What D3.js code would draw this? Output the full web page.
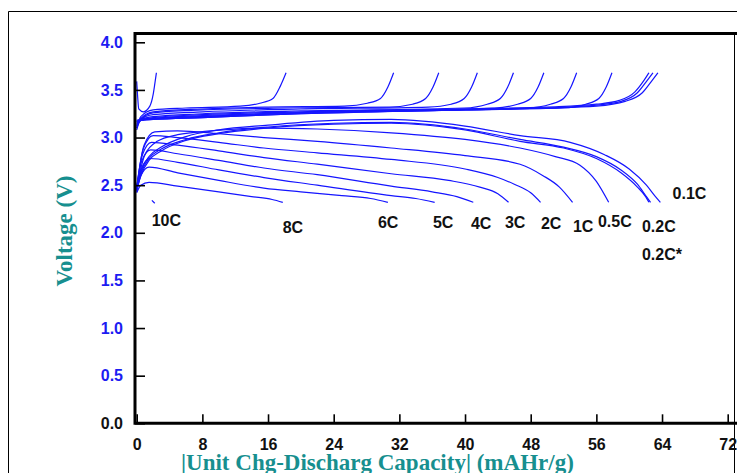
<!DOCTYPE html>
<html>
<head>
<meta charset="utf-8">
<script src="https://cdn.jsdelivr.net/npm/d3@7/dist/d3.min.js"></script>
<style>
  body { margin: 0; background: #fff; }
  svg { display: block; }
  .tick text { font-family: "Liberation Sans", Arial, sans-serif; font-weight: bold; font-size: 16px; }
  .title { font-family: "Liberation Serif", "Times New Roman", serif; font-weight: bold; font-size: 23px; fill: #178f8f; }
  .rate { font-family: "Liberation Sans", Arial, sans-serif; font-weight: bold; font-size: 16px; fill: #111; }
</style>
</head>
<body>
<script>
// axis ticks
const capacityTicks = [0, 8, 16, 24, 32, 40, 48, 56, 64, 72];
const voltageTicks = [0, 0.5, 1.0, 1.5, 2.0, 2.5, 3.0, 3.5, 4.0];

// discharge curves [capacity mAHr/g, voltage V]
const dis10C = [[1.85, 2.34], [2.2, 2.31]];
const dis8C = [[0, 2.42], [0.5, 2.50], [1.5, 2.53], [5, 2.49], [10, 2.43], [14, 2.38], [16.5, 2.35], [17.8, 2.32]];
const dis6C = [[0, 2.43], [0.5, 2.60], [1.5, 2.69], [5, 2.63], [10, 2.55], [15.5, 2.47], [20, 2.43], [25, 2.39], [28.5, 2.36], [30.6, 2.32]];
const dis5C = [[0, 2.44], [0.6, 2.68], [1.6, 2.78], [5, 2.74], [10, 2.66], [15.5, 2.58], [22, 2.50], [31, 2.39], [34, 2.36], [36.3, 2.32]];
const dis4C = [[0, 2.45], [0.6, 2.75], [1.7, 2.87], [5, 2.83], [10, 2.76], [15.5, 2.68], [22, 2.61], [31, 2.49], [36, 2.43], [39, 2.38], [41, 2.32]];
const dis3C = [[0, 2.46], [0.7, 2.82], [1.8, 2.95], [5, 2.92], [10, 2.86], [15.5, 2.79], [22, 2.72], [31, 2.62], [38, 2.55], [41.8, 2.48], [44, 2.41], [45.3, 2.32]];
const dis2C = [[0, 2.47], [0.8, 2.88], [2, 3.02], [5, 3.00], [10, 2.95], [15.5, 2.89], [22, 2.84], [31, 2.77], [40, 2.67], [44, 2.58], [46, 2.51], [48, 2.42], [49.2, 2.32]];
const dis1C = [[0, 2.48], [0.9, 2.92], [2.2, 3.06], [5, 3.07], [10, 3.04], [15.5, 3.00], [22, 2.96], [31, 2.89], [40, 2.81], [46.7, 2.72], [49.5, 2.60], [51.5, 2.48], [53.1, 2.32]];
const dis05C = [[0, 2.48], [1, 2.82], [2.5, 2.96], [5, 3.03], [9, 3.07], [15.5, 3.10], [22, 3.09], [31, 3.05], [40, 2.98], [46.7, 2.89], [51, 2.80], [54, 2.71], [56, 2.54], [57.5, 2.32]];
const dis02C = [[0, 2.46], [0.6, 2.62], [1.5, 2.76], [3, 2.86], [6, 2.97], [10, 3.04], [16, 3.10], [24, 3.14], [31, 3.15], [40, 3.08], [46.7, 2.96], [52, 2.89], [56, 2.78], [59, 2.63], [61, 2.48], [62, 2.38], [62.4, 2.32]];
const dis01C = [[0, 2.47], [0.6, 2.66], [1.5, 2.80], [3, 2.90], [6, 3.01], [10, 3.08], [16, 3.13], [24, 3.18], [31, 3.19], [40, 3.12], [46.7, 3.02], [52.8, 2.95], [57, 2.82], [60, 2.67], [62.1, 2.50], [63.2, 2.38], [63.8, 2.32]];
const dis02Cs = [[0, 2.45], [0.6, 2.64], [1.5, 2.78], [3, 2.88], [6, 2.98], [10, 3.05], [16, 3.11], [24, 3.15], [31, 3.16], [40, 3.09], [46.7, 2.98], [52, 2.90], [56, 2.80], [59, 2.66], [61, 2.51], [62.1, 2.38], [62.6, 2.32]];

// charge curves [capacity mAHr/g, voltage V]
const chg10C = [[0, 3.59], [0.1, 3.45], [0.25, 3.30], [0.8, 3.27], [1.6, 3.33], [2.0, 3.45], [2.2, 3.56], [2.4, 3.68]];
const chg8C = [[0, 3.10], [0.5, 3.22], [2, 3.29], [6, 3.31], [12.6, 3.33], [15, 3.36], [16.6, 3.41], [17.5, 3.54], [18.2, 3.68]];
const chg6C = [[0, 3.08], [0.5, 3.20], [2, 3.27], [8, 3.30], [16, 3.32], [25.3, 3.33], [28.1, 3.36], [29.7, 3.41], [30.6, 3.53], [31.3, 3.68]];
const chg5C = [[0, 3.10], [0.5, 3.19], [2, 3.26], [8, 3.29], [18, 3.31], [30.8, 3.32], [33.6, 3.35], [35.2, 3.41], [36.1, 3.53], [36.8, 3.68]];
const chg4C = [[0, 3.12], [0.5, 3.19], [2, 3.24], [8, 3.27], [20, 3.30], [35.5, 3.32], [38.3, 3.35], [39.9, 3.41], [40.8, 3.53], [41.5, 3.68]];
const chg3C = [[0, 3.13], [0.5, 3.19], [2, 3.22], [8, 3.25], [20, 3.28], [39.9, 3.31], [42.7, 3.35], [44.3, 3.41], [45.2, 3.53], [45.9, 3.68]];
const chg2C = [[0, 3.14], [0.5, 3.18], [2, 3.21], [8, 3.24], [20, 3.27], [43.6, 3.31], [46.4, 3.35], [48, 3.41], [48.9, 3.53], [49.6, 3.68]];
const chg1C = [[0, 3.15], [0.5, 3.18], [2, 3.20], [8, 3.22], [20, 3.26], [36, 3.29], [47.6, 3.31], [50.4, 3.35], [52, 3.41], [52.9, 3.53], [53.6, 3.68]];
const chg05C = [[0, 3.16], [0.5, 3.18], [2, 3.19], [8, 3.21], [20, 3.25], [40, 3.29], [51.9, 3.31], [54.7, 3.35], [56.3, 3.41], [57.2, 3.53], [57.9, 3.68]];
const chg02C = [[0, 3.17], [0.5, 3.18], [2, 3.19], [8, 3.21], [20, 3.25], [40, 3.29], [50, 3.31], [56, 3.34], [59, 3.38], [61, 3.47], [62.2, 3.60], [62.9, 3.68]];
const chg01C = [[0, 3.18], [0.5, 3.19], [2, 3.20], [8, 3.22], [20, 3.26], [40, 3.29], [50, 3.31], [56, 3.33], [59.5, 3.38], [61.6, 3.47], [62.8, 3.60], [63.5, 3.68]];
const chg02Cs = [[0, 3.17], [0.5, 3.18], [2, 3.20], [8, 3.23], [20, 3.26], [40, 3.30], [50, 3.32], [56, 3.35], [58.8, 3.39], [60.7, 3.48], [61.8, 3.60], [62.4, 3.68]];

// rate labels [text, capacity, voltage]
const rateLabels = [
    ["10C", 1.83, 2.07], ["8C", 17.78, 2.00], ["6C", 29.39, 2.05], ["5C", 36.09, 2.05],
    ["4C", 40.72, 2.04], ["3C", 44.86, 2.05], ["2C", 49.24, 2.04], ["1C", 53.14, 2.01],
    ["0.5C", 56.19, 2.06], ["0.2C", 61.55, 2.01], ["0.1C", 65.29, 2.36], ["0.2C*", 61.55, 1.715]
];

const curves = [
    dis10C, dis8C, dis6C, dis5C, dis4C, dis3C, dis2C, dis1C, dis05C, dis02C, dis01C, dis02Cs,
    chg10C, chg8C, chg6C, chg5C, chg4C, chg3C, chg2C, chg1C, chg05C, chg02C, chg01C, chg02Cs
];

const WIDTH = 737, HEIGHT = 473;
const svg = d3.select("body").append("svg").attr("width", WIDTH).attr("height", HEIGHT);

const xScale = d3.scaleLinear().domain([0, 72]).range([136.7, 727.7]);
const yScale = d3.scaleLinear().domain([0, 4]).range([423.3, 42.3]);

// outer frame
svg.append("path")
   .attr("d", "M8.5,473 V11.5 H737")
   .attr("fill", "none").attr("stroke", "#000").attr("stroke-width", 1);
svg.append("line")
   .attr("x1", 734.5).attr("x2", 734.5).attr("y1", 34).attr("y2", 473)
   .attr("stroke", "#000").attr("stroke-width", 1);

// curves
const line = d3.line()
               .x(d => xScale(d[0]))
               .y(d => yScale(d[1]))
               .curve(d3.curveMonotoneX);

svg.append("g")
   .selectAll("path")
   .data(curves)
   .enter()
   .append("path")
   .attr("d", line)
   .attr("fill", "none")
   .attr("stroke", "#1515ff")
   .attr("stroke-width", 1.2);

// axes
const yAxis = d3.axisLeft(yScale).tickValues(voltageTicks).tickFormat(d3.format(".1f"))
                .tickSizeInner(-10).tickSizeOuter(0).tickPadding(12);
const yG = svg.append("g").attr("transform", "translate(135,0)").call(yAxis);
yG.select(".domain").remove();
yG.selectAll(".tick line").attr("stroke", "#000").attr("stroke-width", 1.6);
yG.selectAll(".tick text").attr("fill", d => d === 0 ? "#111" : "#1c1cf2");

const xAxis = d3.axisBottom(xScale).tickValues(capacityTicks).tickFormat(d3.format(""))
                .tickSizeInner(-9).tickSizeOuter(0).tickPadding(15);
const xG = svg.append("g").attr("transform", "translate(0,423.3)").call(xAxis);
xG.select(".domain").remove();
xG.selectAll(".tick line").attr("stroke", "#000").attr("stroke-width", 1.6);
xG.selectAll(".tick text").attr("fill", "#111");

// frame of the plot
svg.append("path")
   .attr("d", "M135,423.3 V33.5 H737 M133.5,423.3 H737")
   .attr("fill", "none").attr("stroke", "#000").attr("stroke-width", 3);

// rate labels
svg.append("g")
   .selectAll("text")
   .data(rateLabels)
   .enter()
   .append("text")
   .attr("class", "rate")
   .attr("x", d => xScale(d[1]))
   .attr("y", d => yScale(d[2]))
   .text(d => d[0]);

// titles
svg.append("text")
   .attr("class", "title")
   .attr("x", 181)
   .attr("y", 470)
   .text("|Unit Chg-Discharg Capacity| (mAHr/g)");

svg.append("text")
   .attr("class", "title")
   .attr("text-anchor", "middle")
   .attr("transform", "translate(72,231) rotate(-90)")
   .text("Voltage (V)");
</script>
</body>
</html>
